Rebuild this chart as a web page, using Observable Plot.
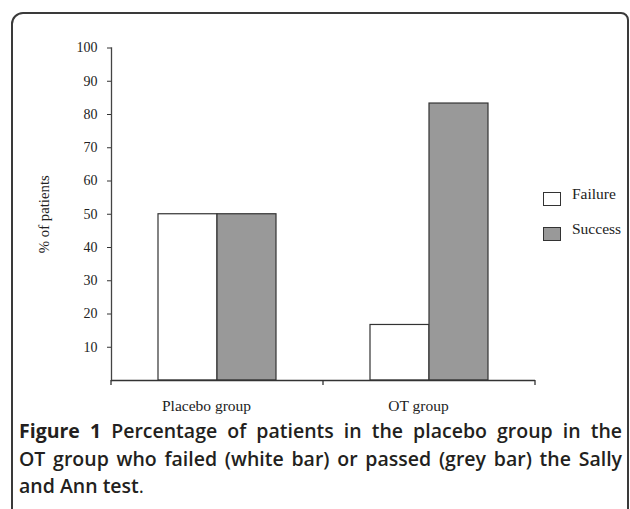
<!DOCTYPE html>
<html>
<head>
<meta charset="utf-8">
<script src="https://cdn.jsdelivr.net/npm/d3@7"></script>
<script src="https://cdn.jsdelivr.net/npm/@observablehq/plot@0.6"></script>
<style>
  html, body { margin: 0; padding: 0; background: #fff; }
  #wrap { position: relative; width: 630px; height: 509px; overflow: hidden; }
  #border { position: absolute; left: 11px; top: 12px; width: 618px; height: 600px;
            box-sizing: border-box; border: 2px solid #3a3a3a; border-radius: 12px 8px 0 0; }
  #chart { position: absolute; left: 0; top: 0; }
  #chart svg text { font-family: "Liberation Serif", "Times New Roman", serif; fill: #222; }
  #legend { position: absolute; left: 543px; top: 185px; font-family: "Liberation Serif", "Times New Roman", serif;
            font-size: 15.5px; color: #222; }
  .item { position: relative; height: 35px; }
  .sw { position: absolute; left: 0; top: 7px; width: 18px; height: 13.5px; box-sizing: border-box; border: 1.3px solid #333; }
  .lab { position: absolute; left: 29px; top: 0px; white-space: nowrap; }
  #caption { position: absolute; left: 19px; top: 417px; width: 603px; font-family: "Open Sans", sans-serif;
             font-weight: 600; font-size: 19.5px; line-height: 27.5px; color: #231f20; }
  #caption .ln { display: block; white-space: nowrap; }
  #caption .j { text-align: justify; text-align-last: justify; white-space: normal; }
  #caption b { font-weight: 700; }
</style>
</head>
<body>
<div id="wrap">
  <div id="border"></div>
  <div id="chart"></div>
  <div id="legend"></div>
  <div id="caption"><span class="ln j"><b>Figure 1</b> Percentage of patients in the placebo group in the</span><span class="ln j">OT group who failed (white bar) or passed (grey bar) the Sally</span><span class="ln">and Ann test<span style="font-weight:400">.</span></span></div>
</div>
<script>
const groups = ["Placebo group", "OT group"];
const outcomes = ["Failure", "Success"];
const failureValues = [50, 16.7];
const successValues = [50, 83.3];
const yTicks = [10, 20, 30, 40, 50, 60, 70, 80, 90, 100];
const outcomeFills = ["#ffffff", "#999999"];

const data = [];
groups.forEach((g, i) => {
  data.push({group: g, outcome: outcomes[0], value: failureValues[i]});
  data.push({group: g, outcome: outcomes[1], value: successValues[i]});
});

const serif = '"Liberation Serif", "Times New Roman", serif';

const plot = Plot.plot({
  width: 630,
  height: 420,
  marginLeft: 111,
  marginRight: 95,
  marginTop: 47.5,
  marginBottom: 40,
  style: {fontFamily: serif, fontSize: "14px", color: "#222", background: "transparent"},
  fx: {domain: groups, padding: 0, label: null},
  x: {domain: outcomes, paddingInner: 0, paddingOuter: 0.767, axis: null},
  y: {domain: [0, 100]},
  color: {domain: outcomes, range: outcomeFills},
  marks: [
    Plot.barY(data, {fx: "group", x: "outcome", y: "value", fill: "outcome", stroke: "#333", strokeWidth: 1.2}),
    Plot.ruleY([0], {stroke: "#333", strokeWidth: 1.3}),
    Plot.frame({anchor: "left", stroke: "#444", strokeWidth: 1.3, facetAnchor: "left"}),
    Plot.axisY({ticks: yTicks, tickSize: 4, tickPadding: 10, tickFormat: d => d, stroke: "#333",
                fontSize: 14, label: null}),
    Plot.axisY({ticks: [], tickSize: 0, label: "% of patients", labelAnchor: "center", labelArrow: "none",
                labelOffset: 73, fontSize: 14.8}),
    Plot.axisFx({anchor: "bottom", tickSize: 0, tickPadding: 19, dx: -11, fontSize: 15.5, label: null})
  ]
});
document.getElementById("chart").appendChild(plot);

// small boundary ticks below the category axis, from the library's fx scale
const fxs = plot.scale("fx");
const ys = plot.scale("y");
const y0 = ys.apply(0);
const edges = [];
groups.forEach(g => { const l = fxs.apply(g); edges.push(l, l + fxs.bandwidth); });
const uniq = Array.from(new Set(edges.map(e => Math.round(e * 10) / 10)));
d3.select(plot).append("g").selectAll("line").data(uniq).join("line")
  .attr("x1", d => d).attr("x2", d => d).attr("y1", y0).attr("y2", y0 + 5)
  .attr("stroke", "#333").attr("stroke-width", 1.3);

// legend
const leg = d3.select("#legend");
outcomes.forEach((o, i) => {
  const it = leg.append("div").attr("class", "item");
  it.append("div").attr("class", "sw").style("background", outcomeFills[i]);
  it.append("div").attr("class", "lab").text(o);
});
</script>
</body>
</html>
